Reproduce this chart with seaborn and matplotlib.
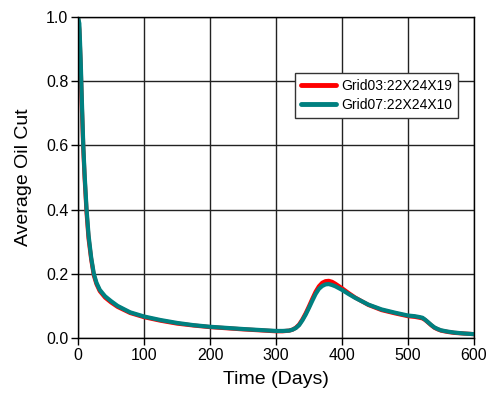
import matplotlib
matplotlib.use("Agg")
import matplotlib.pyplot as plt
import seaborn as sns
import pandas as pd

days = [0, 2, 4, 5, 6, 8, 10, 13, 16, 20, 24, 28, 33, 41, 50, 60, 79, 100, 125, 150,
        175, 200, 250, 300, 310, 320, 325, 330, 335, 340, 345, 350, 355, 360, 365,
        370, 375, 380, 385, 390, 400, 410, 420, 440, 460, 480, 500, 510, 518, 522,
        526, 530, 535, 540, 545, 550, 560, 570, 585, 600]
grid03 = [1.0, 0.96, 0.85, 0.78, 0.71, 0.59, 0.50, 0.39, 0.31, 0.245, 0.195, 0.168,
          0.146, 0.126, 0.111, 0.097, 0.078, 0.065, 0.054, 0.045, 0.039, 0.034, 0.027,
          0.021, 0.021, 0.023, 0.026, 0.032, 0.042, 0.058, 0.077, 0.099, 0.122, 0.144,
          0.161, 0.172, 0.177, 0.178, 0.175, 0.169, 0.155, 0.14, 0.126, 0.103, 0.087,
          0.077, 0.068, 0.066, 0.063, 0.061, 0.056, 0.049, 0.04, 0.032, 0.027, 0.023,
          0.019, 0.016, 0.014, 0.012]
grid07 = [1.0, 0.98, 0.87, 0.80, 0.73, 0.60, 0.51, 0.40, 0.32, 0.25, 0.20, 0.172,
          0.15, 0.13, 0.115, 0.1, 0.08, 0.067, 0.056, 0.047, 0.04, 0.035, 0.028,
          0.022, 0.022, 0.023, 0.026, 0.031, 0.04, 0.055, 0.073, 0.094, 0.116, 0.137,
          0.153, 0.162, 0.167, 0.168, 0.165, 0.161, 0.15, 0.137, 0.125, 0.104, 0.089,
          0.079, 0.07, 0.068, 0.065, 0.063, 0.057, 0.05, 0.041, 0.033, 0.028, 0.024,
          0.02, 0.017, 0.014, 0.012]
labels = ["Grid03:22X24X19", "Grid07:22X24X10"]

df = pd.concat([
    pd.DataFrame({"Time": days, "Cut": grid03, "Case": labels[0]}),
    pd.DataFrame({"Time": days, "Cut": grid07, "Case": labels[1]}),
])

sns.set_style("ticks")
plt.rcParams["font.family"] = ["Liberation Sans", "DejaVu Sans"]
plt.rcParams["text.color"] = "black"
plt.rcParams["axes.labelcolor"] = "black"
plt.rcParams["xtick.color"] = "black"
plt.rcParams["ytick.color"] = "black"
plt.rcParams["xtick.major.size"] = 5
plt.rcParams["ytick.major.size"] = 5

fig = plt.figure(figsize=(4.86, 3.95), dpi=100)
ax = fig.add_axes([0.1605, 0.1443, 0.8148, 0.8127])

sns.lineplot(data=df, x="Time", y="Cut", hue="Case",
             palette={labels[0]: "#ff0000", labels[1]: "#008080"},
             linewidth=3.0, ax=ax)
for ln in ax.get_lines():
    ln.set_solid_joinstyle("round")
    ln.set_solid_capstyle("round")

ax.set_xlim(0, 600)
ax.set_ylim(0, 1.0)
ax.set_xticks([0, 100, 200, 300, 400, 500, 600])
ax.set_yticks([0.0, 0.2, 0.4, 0.6, 0.8, 1.0])
ax.set_yticklabels(["0.0", "0.2", "0.4", "0.6", "0.8", "1.0"])
ax.grid(True, color="#222222", linewidth=1.0)
ax.set_axisbelow(True)
for s in ax.spines.values():
    s.set_visible(True)
    s.set_color("black")
    s.set_linewidth(1.0)
ax.tick_params(axis="both", direction="out", length=5, width=1, color="black",
               labelsize=11.5, pad=2, left=True, bottom=True, top=False, right=False)
ax.set_xlabel("Time (Days)", fontsize=14, labelpad=6)
ax.set_ylabel("Average Oil Cut", fontsize=14, labelpad=10)

leg = ax.legend(loc="upper right", bbox_to_anchor=(0.96, 0.826), fontsize=10,
                frameon=True, fancybox=False, edgecolor="#333333", framealpha=1,
                handlelength=2.5, borderpad=0.45, labelspacing=0.35, handletextpad=0.35,
                borderaxespad=0)
leg.get_frame().set_linewidth(1.0)
for line in leg.get_lines():
    line.set_linewidth(3.5)

fig.savefig("out.png", dpi=100)
